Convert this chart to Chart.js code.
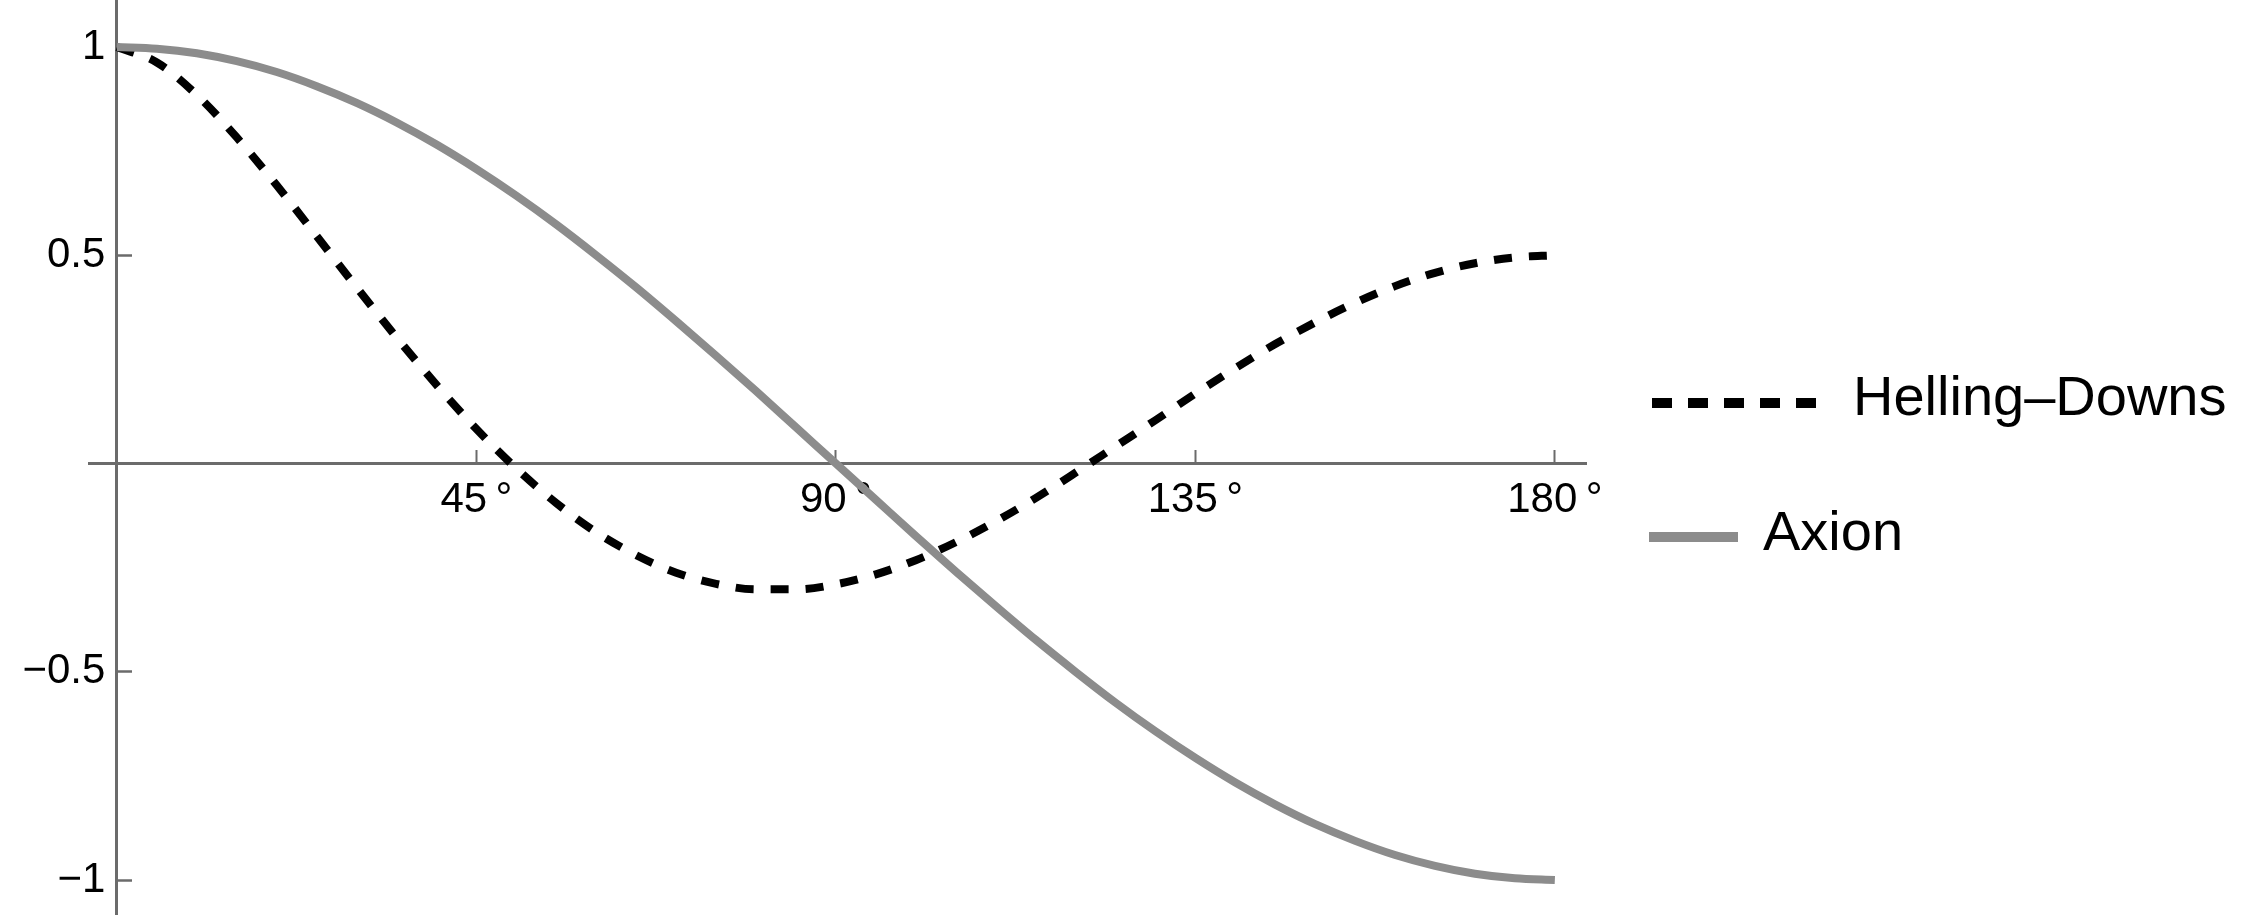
<!DOCTYPE html>
<html>
<head>
<meta charset="utf-8">
<script src="https://cdn.jsdelivr.net/npm/chart.js@4.4.1/dist/chart.umd.min.js"></script>
<style>
html, body { margin: 0; padding: 0; background: #fff; }
#wrap { width: 2251px; height: 915px; }
</style>
</head>
<body>
<div id="wrap"><canvas id="chart" width="2251" height="915"></canvas></div>
<script>
// angle between pulsars, degrees
const angles = [0, 5, 10, 15, 20, 25, 30, 35, 40, 45, 50, 55, 60, 65, 70, 75, 80, 85, 90,
  95, 100, 105, 110, 115, 120, 125, 130, 135, 140, 145, 150, 155, 160, 165, 170, 175, 180];

const hellingDowns = [1, 0.963, 0.885, 0.783, 0.668, 0.546, 0.423, 0.303, 0.189, 0.083,
  -0.012, -0.095, -0.165, -0.220, -0.262, -0.289, -0.302, -0.302, -0.290,
  -0.266, -0.232, -0.189, -0.139, -0.083, -0.022, 0.041, 0.104, 0.168, 0.229,
  0.287, 0.339, 0.386, 0.426, 0.458, 0.481, 0.495, 0.5];

const axion = [1, 0.996, 0.985, 0.966, 0.940, 0.906, 0.866, 0.819, 0.766, 0.707,
  0.643, 0.574, 0.500, 0.423, 0.342, 0.259, 0.174, 0.087, 0,
  -0.087, -0.174, -0.259, -0.342, -0.423, -0.500, -0.574, -0.643, -0.707, -0.766,
  -0.819, -0.866, -0.906, -0.940, -0.966, -0.985, -0.996, -1];

const seriesNames = ['Helling\u2013Downs', 'Axion'];

const xTicks = [45, 90, 135, 180];
const xTickLabels = ['45\u2009\u00b0', '90\u2009\u00b0', '135\u2009\u00b0', '180\u2009\u00b0'];
const yTicks = [-1, -0.5, 0.5, 1];
const yTickLabels = ['\u22121', '\u22120.5', '0.5', '1'];

const fontFamily = "'Liberation Sans', Arial, sans-serif";
const axisGray = '#6b6b6b';
const axionGray = '#8c8c8c';

// legend on the right, drawn by hand (sample lengths differ per row)
const sideLegend = {
  id: 'sideLegend',
  afterDraw(chart) {
    const c = chart.ctx;
    const rows = [
      { ds: 0, x0: 1652, x1: 1816, y: 403, tx: 1853, ty: 415, dash: [20, 16] },
      { ds: 1, x0: 1649, x1: 1738, y: 537, tx: 1763, ty: 550, dash: [] }
    ];
    c.save();
    rows.forEach(r => {
      const ds = chart.data.datasets[r.ds];
      c.beginPath();
      c.setLineDash(r.dash);
      c.lineWidth = 10;
      c.lineCap = 'butt';
      c.strokeStyle = ds.borderColor;
      c.moveTo(r.x0, r.y);
      c.lineTo(r.x1, r.y);
      c.stroke();
      c.setLineDash([]);
      c.fillStyle = '#000';
      c.font = '56px ' + fontFamily;
      c.textAlign = 'left';
      c.textBaseline = 'alphabetic';
      c.fillText(ds.label, r.tx, r.ty);
    });
    c.restore();
  }
};

// axes sit on the zero lines and take no layout room
function noRoomX(s) {
  s.height = 0;
  s.paddingLeft = 0; s.paddingRight = 0; s.paddingTop = 0; s.paddingBottom = 0;
}
function noRoomY(s) {
  s.width = 0;
  s.paddingLeft = 0; s.paddingRight = 0; s.paddingTop = 0; s.paddingBottom = 0;
}

const ctx = document.getElementById('chart').getContext('2d');
new Chart(ctx, {
  type: 'line',
  data: {
    datasets: [
      {
        label: seriesNames[0],
        data: angles.map((a, i) => ({ x: a, y: hellingDowns[i] })),
        borderColor: '#000',
        borderWidth: 8,
        borderDash: [18, 17],
        pointRadius: 0,
        cubicInterpolationMode: 'monotone',
        fill: false,
        order: 1
      },
      {
        label: seriesNames[1],
        data: angles.map((a, i) => ({ x: a, y: axion[i] })),
        borderColor: axionGray,
        borderWidth: 8,
        pointRadius: 0,
        cubicInterpolationMode: 'monotone',
        fill: false,
        order: 0
      }
    ]
  },
  options: {
    responsive: false,
    devicePixelRatio: 1,
    animation: false,
    layout: { padding: { left: 89, right: 665, top: 0, bottom: 0 } },
    plugins: {
      legend: { display: false },
      tooltip: { enabled: false }
    },
    scales: {
      x: {
        type: 'linear',
        min: -3.5,
        max: 183.9,
        position: { y: 0 },
        afterFit: noRoomX,
        afterBuildTicks: s => { s.ticks = xTicks.map(v => ({ value: v })); },
        grid: { drawOnChartArea: false, drawTicks: true, tickLength: -15, tickWidth: 2, tickColor: axisGray },
        border: { display: true, color: axisGray, width: 3 },
        ticks: {
          autoSkip: false,
          maxRotation: 0,
          padding: 27,
          color: '#000',
          font: { family: fontFamily, size: 42 },
          callback: v => xTickLabels[xTicks.indexOf(v)]
        }
      },
      y: {
        type: 'linear',
        min: -1.084,
        max: 1.113,
        position: { x: 0 },
        afterFit: noRoomY,
        afterBuildTicks: s => { s.ticks = yTicks.map(v => ({ value: v })); },
        grid: { drawOnChartArea: false, drawTicks: true, tickLength: -17, tickWidth: 2.5, tickColor: axisGray },
        border: { display: true, color: axisGray, width: 3 },
        ticks: {
          autoSkip: false,
          color: '#000',
          font: { family: fontFamily, size: 42 },
          // labels are right-aligned on the axis line itself; a trailing space keeps the gap
          callback: v => yTickLabels[yTicks.indexOf(v)] + ' '
        }
      }
    }
  },
  plugins: [sideLegend]
});
</script>
</body>
</html>
